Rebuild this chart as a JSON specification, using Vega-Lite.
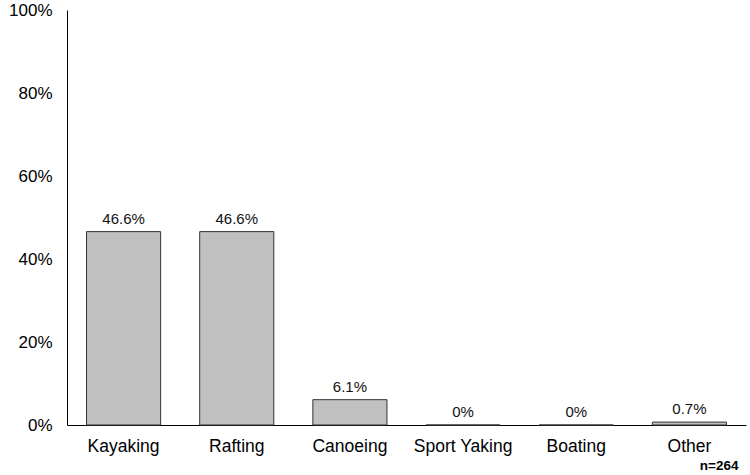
{
  "$schema": "https://vega.github.io/schema/vega-lite/v6.json",
  "width": 679,
  "height": 415,
  "autosize": "none",
  "padding": {"left": 67, "top": 10, "right": 4, "bottom": 50},
  "background": "white",
  "config": {
    "view": {"stroke": null},
    "font": "Liberation Sans"
  },
  "data": {
    "values": [
      {"activity": "Kayaking", "pct": 46.6, "label": "46.6%"},
      {"activity": "Rafting", "pct": 46.6, "label": "46.6%"},
      {"activity": "Canoeing", "pct": 6.1, "label": "6.1%"},
      {"activity": "Sport Yaking", "pct": 0, "label": "0%"},
      {"activity": "Boating", "pct": 0, "label": "0%"},
      {"activity": "Other", "pct": 0.7, "label": "0.7%"}
    ]
  },
  "encoding": {
    "x": {
      "field": "activity",
      "type": "nominal",
      "sort": null,
      "scale": {"paddingInner": 0.345, "paddingOuter": 0.1725},
      "axis": {
        "title": "n=264",
        "titleAnchor": null,
        "titleAlign": "right",
        "titleBaseline": "alphabetic",
        "titleX": 671,
        "titleY": 44,
        "titleFontWeight": "bold",
        "titleFontSize": 13.5,
        "titleColor": "black",
        "labelAngle": 0,
        "labelFontSize": 17.5,
        "labelColor": "black",
        "labelPadding": 12,
        "ticks": false,
        "domainColor": "black",
        "domainWidth": 1
      }
    },
    "y": {
      "field": "pct",
      "type": "quantitative",
      "scale": {"domain": [0, 100], "nice": false},
      "axis": {
        "title": null,
        "values": [0, 20, 40, 60, 80, 100],
        "labelExpr": "datum.value + '%'",
        "labelFontSize": 17,
        "labelColor": "black",
        "labelPadding": 15,
        "ticks": false,
        "grid": false,
        "domainColor": "black",
        "domainWidth": 1
      }
    }
  },
  "layer": [
    {
      "mark": {"type": "bar", "color": "#c0c0c0", "stroke": "#333333", "strokeWidth": 1}
    },
    {
      "mark": {"type": "text", "baseline": "alphabetic", "dy": -8, "fontSize": 15, "color": "#111111"},
      "encoding": {"text": {"field": "label"}}
    }
  ]
}
